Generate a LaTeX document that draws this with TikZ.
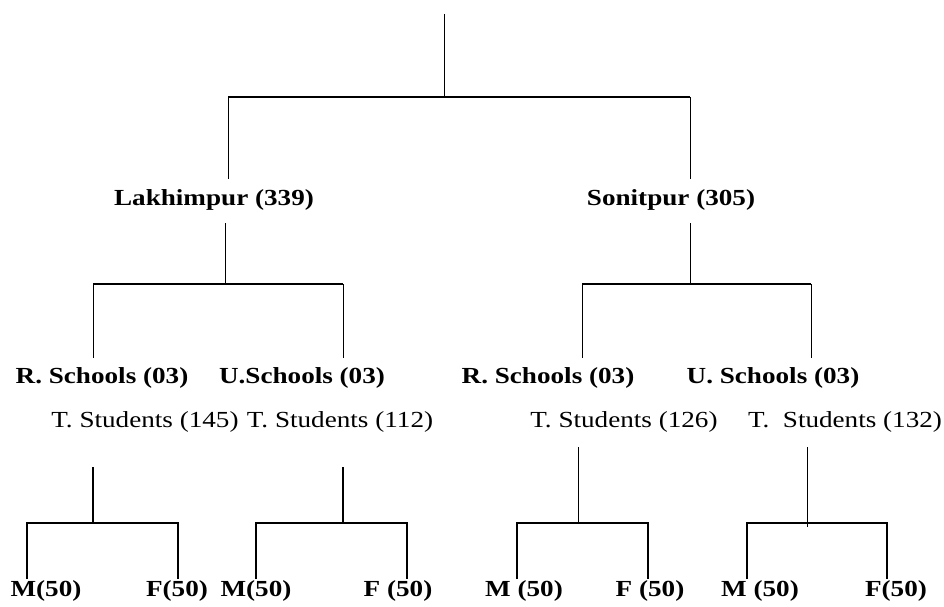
\documentclass[tikz,border=0pt]{standalone}
\usepackage{fontspec}
\setmainfont{Liberation Serif}[FakeStretch=1.18]
\begin{document}
\begin{tikzpicture}[x=1pt, y=-1pt,
    every node/.style={anchor=base, inner sep=0pt, font=\fontsize{23}{27}\selectfont},
    head/.style={font=\fontsize{23}{27}\selectfont\bfseries},
    stem/.style={line width=0.9pt},
    bar/.style={line width=1.6pt},
    leaf/.style={line width=1.3pt}]
  \useasboundingbox (0,0) rectangle (944,607);
  % districts
  \coordinate (top) at (444,14);
  \coordinate (j0) at (444,97);
  \coordinate (lak-in) at (228,179);
  \coordinate (son-in) at (690,179);
  \node[head] (lak) at (214,205) {Lakhimpur (339)};
  \node[head] (son) at (671,205) {Sonitpur (305)};
  \draw[stem] (top) -- (j0);
  \draw[bar] (lak-in |- j0) -- (son-in |- j0);
  \draw[stem] (lak-in |- j0) -- (lak-in);
  \draw[stem] (son-in |- j0) -- (son-in);
  % schools
  \coordinate (lak-out) at (225,223);
  \coordinate (j1) at (225,284);
  \coordinate (rs1-in) at (93,358);
  \coordinate (us1-in) at (343,358);
  \coordinate (son-out) at (690,223);
  \coordinate (j2) at (690,284);
  \coordinate (rs2-in) at (582,358);
  \coordinate (us2-in) at (811,358);
  \node[head] (rs1) at (102,383) {R. Schools (03)};
  \node[head] (us1) at (302,383) {U.Schools (03)};
  \node[head] (rs2) at (548,383) {R. Schools (03)};
  \node[head] (us2) at (773,383) {U. Schools (03)};
  \draw[stem] (lak-out) -- (j1);
  \draw[bar] (rs1-in |- j1) -- (us1-in |- j1);
  \draw[stem] (rs1-in |- j1) -- (rs1-in);
  \draw[stem] (us1-in |- j1) -- (us1-in);
  \draw[stem] (son-out) -- (j2);
  \draw[bar] (rs2-in |- j2) -- (us2-in |- j2);
  \draw[stem] (rs2-in |- j2) -- (rs2-in);
  \draw[stem] (us2-in |- j2) -- (us2-in);
  % students
  \node (ts1) at (145,427) {T. Students (145)};
  \node (ts2) at (340,427) {T. Students (112)};
  \node (ts3) at (624,427) {T. Students (126)};
  \node (ts4) at (845,427) {T.\ \ Students (132)};
  \coordinate (ts1-out) at (93,467);
  \coordinate (ts2-out) at (343,467);
  \coordinate (ts3-out) at (578,447);
  \coordinate (ts4-out) at (807,447);
  \coordinate (j3) at (93,523);
  \coordinate (j4) at (343,523);
  \coordinate (j5) at (578,523);
  \coordinate (j6) at (807,527);
  \coordinate (m1-in) at (27,579);
  \coordinate (f1-in) at (178,579);
  \coordinate (m2-in) at (256,579);
  \coordinate (f2-in) at (407,579);
  \coordinate (m3-in) at (517,579);
  \coordinate (f3-in) at (648,579);
  \coordinate (m4-in) at (747,579);
  \coordinate (f4-in) at (887,579);
  \node[head] (m1) at (46,596) {M(50)};
  \node[head] (f1) at (177,596) {F(50)};
  \node[head] (m2) at (256,596) {M(50)};
  \node[head] (f2) at (398,596) {F (50)};
  \node[head] (m3) at (524,596) {M (50)};
  \node[head] (f3) at (650,596) {F (50)};
  \node[head] (m4) at (760,596) {M (50)};
  \node[head] (f4) at (896,596) {F(50)};
  \draw[leaf] (ts1-out) -- (j3);
  \draw[leaf] (m1-in) |- (j3) -| (f1-in);
  \draw[leaf] (ts2-out) -- (j4);
  \draw[leaf] (m2-in) |- (j4) -| (f2-in);
  \draw[stem] (ts3-out) -- (j5);
  \draw[leaf] (m3-in) |- (j5) -| (f3-in);
  \draw[stem] (ts4-out) -- (j6);
  \draw[leaf] (m4-in) |- (j5 -| j6) -| (f4-in);
\end{tikzpicture}
\end{document}
